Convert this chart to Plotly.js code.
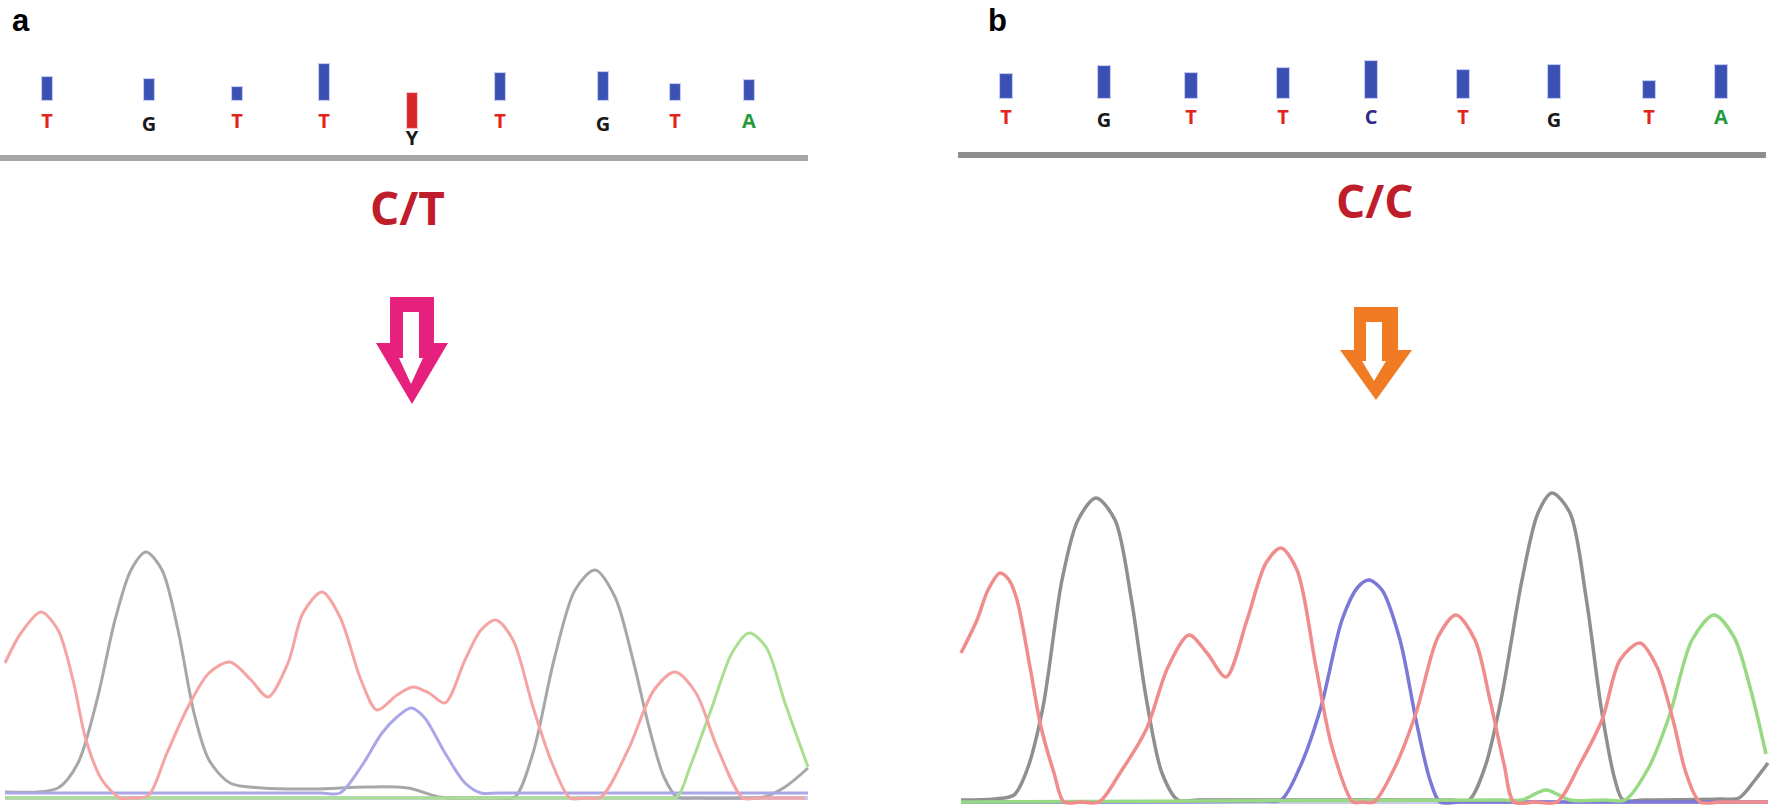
<!DOCTYPE html>
<html>
<head>
<meta charset="utf-8">
<script src="https://cdn.plot.ly/plotly-3.0.1.min.js"></script>
<style>
html, body { margin: 0; padding: 0; background: #fff; }
#chart { width: 1770px; height: 810px; }
</style>
</head>
<body>
<div id="chart"></div>
<script>
// base calls + quality bars (x in scan units of each chromatogram)
const callsA = ['T', 'G', 'T', 'T', 'Y', 'T', 'G', 'T', 'A'];
const callPosA = [47, 149, 237, 324, 412, 500, 603, 675, 749];
const qualTopA = [23, 21, 13, 36, 7, 27, 28, 16, 20];
const qualLowA = [0, 0, 0, 0, -28, 0, 0, 0, 0];

const callsB = ['T', 'G', 'T', 'T', 'C', 'T', 'G', 'T', 'A'];
const callPosB = [66, 164, 251, 343, 431, 523, 614, 709, 781];
const qualTopB = [24, 32, 25, 30, 37, 28, 33, 17, 33];
const qualLowB = [0, 0, 0, 0, 0, 0, 0, 0, 0];

const genotypeA = 'C/T';
const genotypeB = 'C/C';

// chromatogram a (heterozygous C/T)
const aT_x = [5, 21, 41, 58, 73, 86, 102, 120, 129, 139, 149, 167, 188, 209, 230, 251, 268, 288, 303, 322, 340, 361, 377, 397, 413, 429, 445, 465, 481, 496, 513, 533, 552, 570, 585, 601, 628, 654, 675, 696, 717, 743, 758, 805];
const aT_y = [135, 165, 186, 168, 118, 58, 18, 0, 0, 0, 3, 45, 91, 125, 136, 118, 101, 135, 185, 206, 181, 118, 88, 103, 111, 105, 95, 138, 168, 178, 158, 91, 35, 0, 0, 1, 48, 108, 126, 105, 51, 0, 0, 0];
const aG_x = [5, 58, 78, 97, 115, 131, 146, 162, 178, 194, 209, 230, 262, 314, 366, 408, 439, 460, 480, 500, 515, 533, 554, 575, 595, 615, 633, 649, 664, 677, 695, 745, 764, 785, 808];
const aG_y = [6, 10, 35, 98, 178, 228, 246, 228, 168, 85, 38, 15, 10, 9, 11, 10, 1, 0, 0, 0, 1, 45, 138, 208, 228, 201, 138, 71, 21, 1, 0, 0, 1, 11, 30];
const aC_x = [5, 320, 340, 361, 382, 397, 411, 424, 445, 465, 481, 500, 808];
const aC_y = [5, 5, 5, 31, 65, 81, 90, 81, 45, 15, 5, 5, 5];
const aA_x = [5, 640, 660, 677, 690, 711, 732, 749, 766, 785, 808];
const aA_y = [0, 0, 0, 1, 31, 88, 145, 165, 151, 95, 31];

// chromatogram b (homozygous C/C)
const bT_x = [21, 37, 48, 60, 69, 77, 90, 101, 114, 124, 141, 159, 180, 206, 228, 249, 267, 286, 307, 326, 341, 357, 376, 392, 413, 423, 434, 455, 476, 498, 516, 535, 550, 564, 574, 595, 617, 640, 662, 680, 700, 717, 733, 746, 760, 780, 828];
const bT_y = [149, 182, 212, 229, 222, 202, 135, 75, 29, 0, 0, 0, 29, 72, 135, 167, 149, 125, 182, 239, 254, 232, 135, 55, 0, 0, 0, 35, 89, 165, 187, 162, 102, 38, 0, 0, 0, 38, 82, 142, 159, 135, 82, 29, 0, 0, 0];
const bG_x = [21, 55, 74, 87, 103, 122, 138, 156, 175, 191, 206, 222, 238, 258, 510, 529, 545, 561, 582, 598, 612, 630, 646, 662, 675, 683, 703, 780, 799, 815, 828];
const bG_y = [2, 3, 7, 32, 95, 222, 282, 304, 282, 205, 105, 29, 2, 2, 2, 2, 35, 102, 222, 289, 309, 289, 205, 89, 22, 2, 2, 3, 4, 22, 39];
const bC_x = [21, 320, 341, 360, 381, 402, 418, 429, 442, 460, 476, 490, 500, 520, 828];
const bC_y = [0, 1, 2, 35, 95, 182, 215, 222, 212, 162, 82, 22, 0, 0, 0];
const bA_x = [21, 560, 582, 606, 630, 665, 685, 709, 730, 752, 774, 794, 810, 826];
const bA_y = [0, 2, 2, 12, 2, 2, 2, 35, 88, 162, 187, 165, 115, 48];

const W = 1770, H = 810;
const px = (x) => x / W;
const py = (y) => 1 - y / H;

const letterColor = { T: '#e3241b', G: '#1a1a1a', A: '#1f9a3c', C: '#2e2a8c', Y: '#1a1a1a' };

function traceLine(x, y, color, width, xa, ya) {
  return {
    x, y, type: 'scatter', mode: 'lines', xaxis: xa, yaxis: ya,
    line: { color, width, shape: 'spline', smoothing: 0.85 },
    hoverinfo: 'skip',
  };
}

function qualityBars(pos, top, low, calls, width, xa, ya) {
  return {
    x: pos,
    y: top.map((t, i) => t - low[i]),
    base: low,
    type: 'bar',
    width,
    xaxis: xa, yaxis: ya,
    marker: {
      color: calls.map(c => c === 'Y' ? '#d8262a' : '#3a50b2'),
      line: { color: calls.map(c => c === 'Y' ? 'rgba(230,80,80,0.35)' : 'rgba(90,110,210,0.35)'), width: 2 },
    },
    hoverinfo: 'skip',
  };
}

function callLetters(pos, calls, level, xa, ya) {
  return {
    x: pos,
    y: calls.map(c => c === 'Y' ? level - 17 : (c === 'G' ? level - 3 : level)),
    text: calls.map(c => '<b>' + c + '</b>'),
    mode: 'text', type: 'scatter', xaxis: xa, yaxis: ya,
    textposition: 'middle center',
    textfont: { family: 'Open Sans, sans-serif', size: 20, color: calls.map(c => letterColor[c]) },
    hoverinfo: 'skip',
  };
}

const data = [
  traceLine(aG_x, aG_y, '#a7a7a7', 3, 'x', 'y'),
  traceLine(aC_x, aC_y, '#aaa7e8', 3, 'x', 'y'),
  traceLine(aA_x, aA_y, '#a9e08f', 3, 'x', 'y'),
  traceLine(aT_x, aT_y, '#f5a3a3', 3, 'x', 'y'),
  traceLine(bG_x, bG_y, '#8f8f8f', 3.5, 'x2', 'y2'),
  traceLine(bC_x, bC_y, '#7b78d8', 3.5, 'x2', 'y2'),
  traceLine(bA_x, bA_y, '#97da83', 3.5, 'x2', 'y2'),
  traceLine(bT_x, bT_y, '#f08c8c', 3.5, 'x2', 'y2'),
  qualityBars(callPosA, qualTopA, qualLowA, callsA, 10, 'x3', 'y3'),
  qualityBars(callPosB, qualTopB, qualLowB, callsB, 12, 'x4', 'y4'),
  callLetters(callPosA, callsA, -23, 'x3', 'y3'),
  callLetters(callPosB, callsB, -21, 'x4', 'y4'),
];

const hidden = { visible: false, fixedrange: true };
const headerX = (domain, range, color) => ({
  domain, range, showline: true, linecolor: color, linewidth: 6, mirror: false,
  showgrid: false, zeroline: false, showticklabels: false, ticks: '', fixedrange: true,
});

function arrowPath(cx, top, shaftHalf, shoulder, headHalf, tip) {
  const pts = [
    [cx - shaftHalf, top], [cx + shaftHalf, top], [cx + shaftHalf, shoulder],
    [cx + headHalf, shoulder], [cx, tip], [cx - headHalf, shoulder], [cx - shaftHalf, shoulder],
  ];
  return 'M' + pts.map(p => px(p[0]).toFixed(5) + ',' + py(p[1]).toFixed(5)).join(' L') + ' Z';
}

const shapes = [
  // baselines of the chromatograms
  { type: 'line', xref: 'x', yref: 'y', x0: 5, x1: 808, y0: 0, y1: 0, layer: 'below', line: { color: '#c9c8ef', width: 4 } },
  { type: 'line', xref: 'x2', yref: 'y2', x0: 21, x1: 828, y0: 0, y1: 0, layer: 'below', line: { color: '#cccbef', width: 4 } },
  // block arrows
  { type: 'path', xref: 'paper', yref: 'paper', path: arrowPath(412, 297, 22, 343, 36, 404), fillcolor: '#e6217d', line: { width: 0 } },
  { type: 'path', xref: 'paper', yref: 'paper', path: arrowPath(411, 312, 8, 358, 12, 384), fillcolor: '#ffffff', line: { width: 0 } },
  { type: 'path', xref: 'paper', yref: 'paper', path: arrowPath(1376, 307, 22, 350, 36, 400), fillcolor: '#f07b23', line: { width: 0 } },
  { type: 'path', xref: 'paper', yref: 'paper', path: arrowPath(1374, 322, 8, 361, 12, 381), fillcolor: '#ffffff', line: { width: 0 } },
];

const annotations = [
  { text: '<b>a</b>', xref: 'paper', yref: 'paper', x: px(21), y: py(21), xanchor: 'center', yanchor: 'middle', showarrow: false, font: { family: 'Liberation Sans, Arial, sans-serif', size: 31, color: '#000' } },
  { text: '<b>b</b>', xref: 'paper', yref: 'paper', x: px(997), y: py(21), xanchor: 'center', yanchor: 'middle', showarrow: false, font: { family: 'Liberation Sans, Arial, sans-serif', size: 31, color: '#000' } },
  { text: '<b>' + genotypeA + '</b>', xref: 'paper', yref: 'paper', x: px(407), y: py(207), xanchor: 'center', yanchor: 'middle', showarrow: false, font: { family: 'Open Sans, sans-serif', size: 46, color: '#bf1d2b' } },
  { text: '<b>' + genotypeB + '</b>', xref: 'paper', yref: 'paper', x: px(1375), y: py(200), xanchor: 'center', yanchor: 'middle', showarrow: false, font: { family: 'Open Sans, sans-serif', size: 46, color: '#bf1d2b' } },
];

const layout = {
  width: W, height: H,
  margin: { l: 0, r: 0, t: 0, b: 0, pad: 0 },
  paper_bgcolor: '#fff', plot_bgcolor: 'rgba(0,0,0,0)',
  showlegend: false,
  bargap: 0,
  xaxis: Object.assign({ domain: [0, px(810)], range: [0, 810] }, hidden),
  yaxis: Object.assign({ domain: [0, 290 / H], range: [-12, 278] }, hidden),
  xaxis2: Object.assign({ domain: [px(940), 1], range: [0, 830] }, hidden),
  yaxis2: Object.assign({ domain: [0, 340 / H], range: [-8, 332] }, hidden),
  xaxis3: Object.assign(headerX([0, px(808)], [0, 808], '#a6a6a6'), { anchor: 'y3' }),
  yaxis3: Object.assign({ domain: [py(155), py(40)], range: [-55, 60], anchor: 'x3' }, hidden),
  xaxis4: Object.assign(headerX([px(958), px(1766)], [18, 826], '#8e8e8e'), { anchor: 'y4' }),
  yaxis4: Object.assign({ domain: [py(152), py(40)], range: [-54, 58], anchor: 'x4' }, hidden),
  shapes,
  annotations,
};

Plotly.newPlot('chart', data, layout, { displayModeBar: false, staticPlot: true });
</script>
</body>
</html>
